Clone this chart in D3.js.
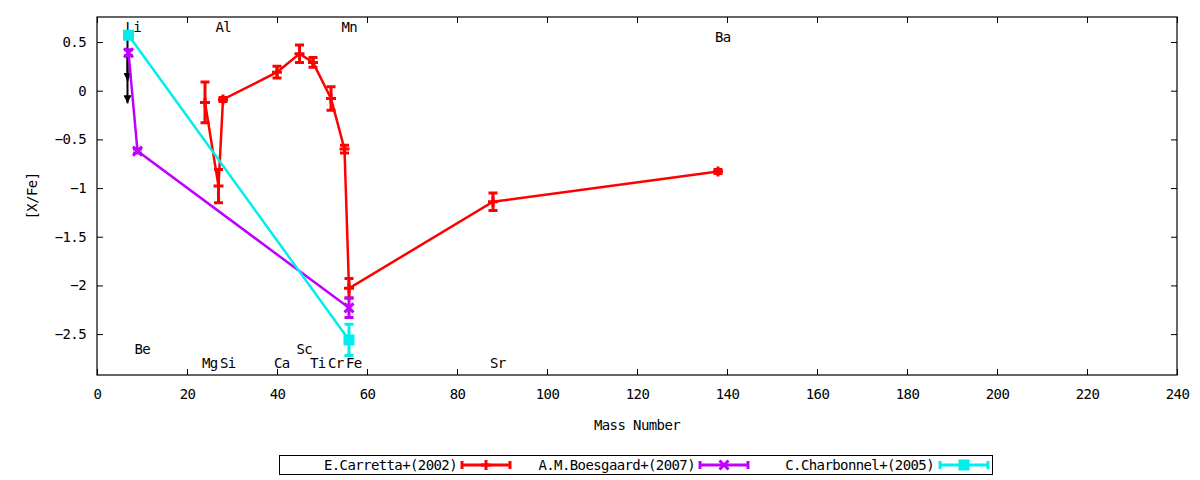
<!DOCTYPE html>
<html><head><meta charset="utf-8">
<script src="https://cdn.jsdelivr.net/npm/d3@7"></script>
<style>
body{margin:0;background:#fff;}
svg{display:block;font-family:"DejaVu Sans Mono",monospace;font-size:14px;letter-spacing:-0.6px;}
</style></head>
<body><svg id="c" width="1200" height="480"></svg>
<script>
// Series: mass number, [X/Fe], error
const carrettaMass = [24, 27, 28, 40, 45, 48, 52, 55, 56, 88, 138];
const carrettaVal  = [-0.12, -0.98, -0.09, 0.19, 0.38, 0.29, -0.08, -0.60, -2.03, -1.14, -0.83];
const carrettaErr  = [0.21, 0.17, 0.02, 0.06, 0.09, 0.05, 0.12, 0.04, 0.10, 0.09, 0.02];

const boesgaardMass = [7, 9, 56];
const boesgaardVal  = [0.39, -0.62, -2.23];
const boesgaardErr  = [0.03, 0.02, 0.10];

const charbonnelMass = [7, 56];
const charbonnelVal  = [0.57, -2.56];
const charbonnelErr  = [0.02, 0.16];

const seriesNames = ["E.Carretta+(2002)", "A.M.Boesgaard+(2007)", "C.Charbonnel+(2005)"];

// element labels
const labelNames = ["Li", "Al", "Mn", "Ba", "Be", "Sc", "Mg", "Si", "Ca", "Ti", "Cr", "Fe", "Sr"];
const labelMass  = [7, 27, 55, 138, 9, 45, 24, 28, 40, 48, 52, 56, 88];
const labelY     = [0.65, 0.65, 0.65, 0.55, -2.65, -2.65, -2.8, -2.8, -2.8, -2.8, -2.8, -2.8, -2.8];

// upper-limit arrows (Li)
const arrowMass = [7, 7];
const arrowFrom = [0.57, 0.39];
const arrowTo   = [0.10, -0.13];

const xTicks = [0, 20, 40, 60, 80, 100, 120, 140, 160, 180, 200, 220, 240];
const yTicks = [0.5, 0, -0.5, -1, -1.5, -2, -2.5];

const colors = ["#ff0000", "#c000ff", "#00eeee"];
const markers = ["plus", "cross", "square"];

const L = 97, R = 1177, T = 17, B = 375;
const svg = d3.select("#c");
const x = d3.scaleLinear().domain([0, 240]).range([L, R]);
const y = d3.scaleLinear().domain([-2.92, 0.757]).range([B, T]);

// axes
const fmt = d => d3.format("")(d);
svg.append("g").attr("transform", `translate(0,${B})`)
  .call(d3.axisBottom(x).tickValues(xTicks).tickSize(-6).tickPadding(14).tickFormat(fmt));
svg.append("g").attr("transform", `translate(0,${T})`)
  .call(d3.axisTop(x).tickValues(xTicks).tickSize(-6).tickFormat(""));
svg.append("g").attr("transform", `translate(${L},0)`)
  .call(d3.axisLeft(y).tickValues(yTicks).tickSize(-6).tickPadding(11).tickFormat(fmt));
svg.append("g").attr("transform", `translate(${R},0)`)
  .call(d3.axisRight(y).tickValues(yTicks).tickSize(-6).tickFormat(""));
svg.selectAll(".domain").remove();
svg.selectAll(".tick line").attr("stroke", "#000").attr("stroke-width", 1);
svg.selectAll(".tick text").attr("font-family", "DejaVu Sans Mono").attr("font-size", 14).attr("fill", "#000");
svg.append("rect").attr("x", L).attr("y", T).attr("width", R - L).attr("height", B - T)
  .attr("fill", "none").attr("stroke", "#000").attr("stroke-width", 1.2);

// axis titles
svg.append("text").attr("x", (L + R) / 2).attr("y", 430).attr("text-anchor", "middle").text("Mass Number");
svg.append("text").attr("transform", `translate(37,${(T + B) / 2}) rotate(-90)`)
  .attr("text-anchor", "middle").text("[X/Fe]");

// element labels
labelNames.forEach((n, i) => {
  svg.append("text").attr("x", x(labelMass[i]) - 3).attr("y", y(labelY[i]) + 5).text(n);
});

// arrows
const defs = svg.append("defs");
defs.append("marker").attr("id", "ah").attr("viewBox", "0 0 10 10").attr("refX", 10).attr("refY", 5)
  .attr("markerWidth", 4).attr("markerHeight", 4).attr("orient", "auto")
  .append("path").attr("d", "M0,0 L10,5 L0,10 Z").attr("fill", "#000");
arrowMass.forEach((m, i) => {
  svg.append("line").attr("x1", x(m) - 1).attr("x2", x(m) - 1)
    .attr("y1", y(arrowFrom[i])).attr("y2", y(arrowTo[i]))
    .attr("stroke", "#000").attr("stroke-width", 2).attr("marker-end", "url(#ah)");
});

function drawMarker(g, type, cx, cy, color) {
  if (type === "plus") {
    g.append("path").attr("d", `M${cx - 5},${cy}H${cx + 5}M${cx},${cy - 5}V${cy + 5}`)
      .attr("stroke", color).attr("stroke-width", 3).attr("fill", "none");
  } else if (type === "cross") {
    g.append("path").attr("d", `M${cx - 4.5},${cy - 4.5}L${cx + 4.5},${cy + 4.5}M${cx - 4.5},${cy + 4.5}L${cx + 4.5},${cy - 4.5}`)
      .attr("stroke", color).attr("stroke-width", 3).attr("fill", "none");
  } else {
    g.append("rect").attr("x", cx - 5.5).attr("y", cy - 5.5).attr("width", 11).attr("height", 11).attr("fill", color);
  }
}

const allSeries = [
  [carrettaMass, carrettaVal, carrettaErr],
  [boesgaardMass, boesgaardVal, boesgaardErr],
  [charbonnelMass, charbonnelVal, charbonnelErr]
];

const line = d3.line().x(d => x(d[0])).y(d => y(d[1]));
allSeries.forEach((s, si) => {
  const [ms, vs, es] = s;
  const pts = ms.map((m, i) => [m, vs[i], es[i]]);
  const g = svg.append("g");
  g.append("path").attr("d", line(pts)).attr("fill", "none").attr("stroke", colors[si]).attr("stroke-width", 2.5);
  pts.forEach(p => {
    const cx = x(p[0]), y1 = y(p[1] + p[2]), y2 = y(p[1] - p[2]);
    g.append("path").attr("d", `M${cx},${y1}V${y2}M${cx - 4.5},${y1}H${cx + 4.5}M${cx - 4.5},${y2}H${cx + 4.5}`)
      .attr("stroke", colors[si]).attr("stroke-width", 3).attr("fill", "none");
    drawMarker(g, markers[si], cx, y(p[1]), colors[si]);
  });
});

// legend
svg.append("rect").attr("x", 279.5).attr("y", 455.5).attr("width", 713).attr("height", 19)
  .attr("fill", "#fff").attr("stroke", "#000").attr("stroke-width", 1);
const legTextEnd = [457, 695, 934];
const legSample = [462, 700, 940];
seriesNames.forEach((n, i) => {
  svg.append("text").attr("x", legTextEnd[i]).attr("y", 470).attr("text-anchor", "end").text(n);
  const lg = svg.append("g");
  const x0 = legSample[i], x1 = x0 + 48, cy = 465;
  lg.append("path").attr("d", `M${x0},${cy}H${x1}M${x0},${cy - 4}V${cy + 4}M${x1},${cy - 4}V${cy + 4}`)
    .attr("stroke", colors[i]).attr("stroke-width", 3).attr("fill", "none");
  drawMarker(lg, markers[i], (x0 + x1) / 2, cy, colors[i]);
});
</script></body></html>
